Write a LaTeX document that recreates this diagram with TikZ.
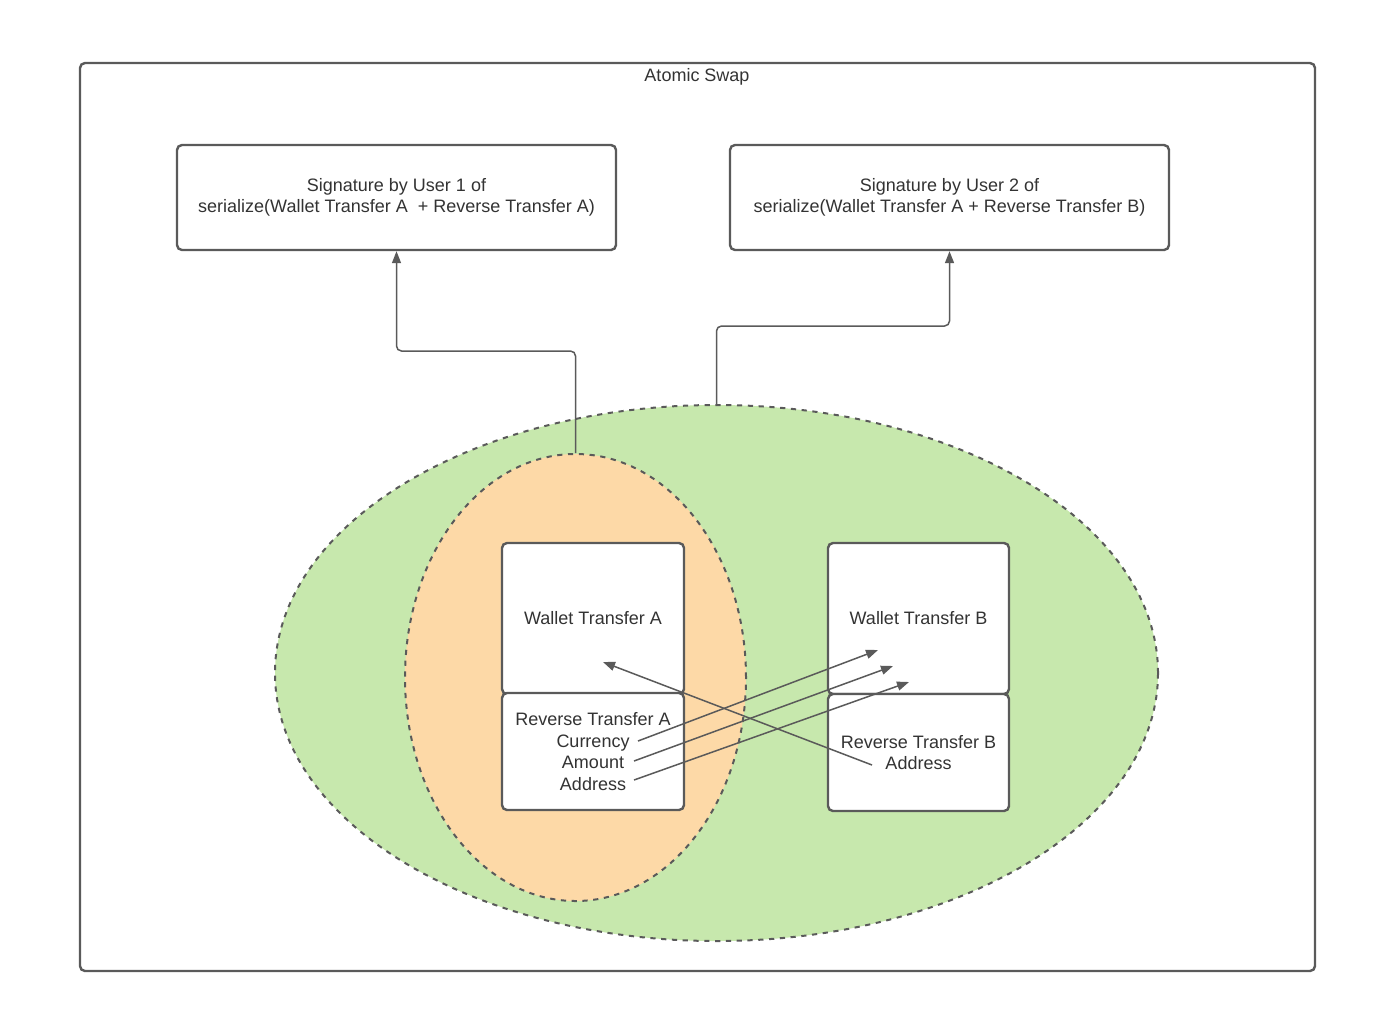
\documentclass[tikz,border=0pt]{standalone}
\usepackage{fontspec}
\setmainfont{Liberation Sans}
\usetikzlibrary{arrows.meta,shapes.geometric}
\definecolor{edge}{HTML}{5A5A5A}
\definecolor{ink}{HTML}{333333}
\definecolor{swapgreen}{HTML}{C7E8AD}
\definecolor{userorange}{HTML}{FDD9A7}
\begin{document}
\begin{tikzpicture}[x=0.5pt,y=-0.5pt,
  every node/.style={font=\fontsize{9pt}{10.75pt}\selectfont, text=ink},
  frame/.style={draw=edge, line width=1.2pt, rounded corners=2.5pt},
  card/.style={draw=edge, line width=1.2pt, rounded corners=2.5pt, fill=white,
    inner sep=0pt, align=center},
  region/.style={ellipse, draw=edge, line width=1pt, dash pattern=on 2.6pt off 2.8pt, inner sep=0pt},
  link/.style={draw=edge, line width=0.75pt, rounded corners=2.5pt,
    -{Triangle[length=6pt,width=4.5pt]}},
  field/.style={draw=edge, line width=0.75pt, -{Triangle[length=6pt,width=4.5pt]}}
]
\useasboundingbox (0,0) rectangle (1395,1035);

% outer frame and title
\draw[frame] (80,63) rectangle (1315,971);
\node (title) at (697,77) {Atomic Swap};

% signature boxes
\node[card, minimum width=219.5pt, minimum height=52.5pt] (sig1) at (396.5,197.5)
  {Signature by User 1 of\\serialize(Wallet Transfer A \ + Reverse Transfer A)};
\node[card, minimum width=219.5pt, minimum height=52.5pt] (sig2) at (949.5,197.5)
  {Signature by User 2 of\\serialize(Wallet Transfer A + Reverse Transfer B)};

% nested regions
\node[region, fill=swapgreen, minimum width=441.5pt, minimum height=268pt] (swap) at (716.5,673) {};
\node[region, fill=userorange, minimum width=170.5pt, minimum height=223.5pt] (user) at (575.5,677.5) {};

% transfer boxes
\node[card, minimum width=91pt, minimum height=75.5pt] (wa) at (593,618.5) {Wallet Transfer A};
\node[card, minimum width=91pt, minimum height=58.5pt] (ra) at (593,751.5)
  {Reverse Transfer A\\Currency\\Amount\\Address};
\node[card, minimum width=90.5pt, minimum height=75.5pt] (wb) at (918.5,618.5) {Wallet Transfer B};
\node[card, minimum width=90.5pt, minimum height=58.5pt] (rb) at (918.5,752.5)
  {Reverse Transfer B\\Address};

% connectors to signatures
\draw[link] (user.north) -- ++(0,-102) -| (sig1.south);
\draw[link] (swap.north) -- ++(0,-78) -| (sig2.south);

% field references
\coordinate (curA) at (638,741);
\coordinate (amtA) at (634,761);
\coordinate (adrA) at (634,780);
\coordinate (adrB) at (872,765);
\coordinate (wbA) at (878,650);
\coordinate (wbB) at (893,666);
\coordinate (wbC) at (909,682);
\coordinate (waA) at (603,662);
\draw[field] (curA) -- (wbA);
\draw[field] (amtA) -- (wbB);
\draw[field] (adrA) -- (wbC);
\draw[field] (adrB) -- (waA);
\end{tikzpicture}
\end{document}
